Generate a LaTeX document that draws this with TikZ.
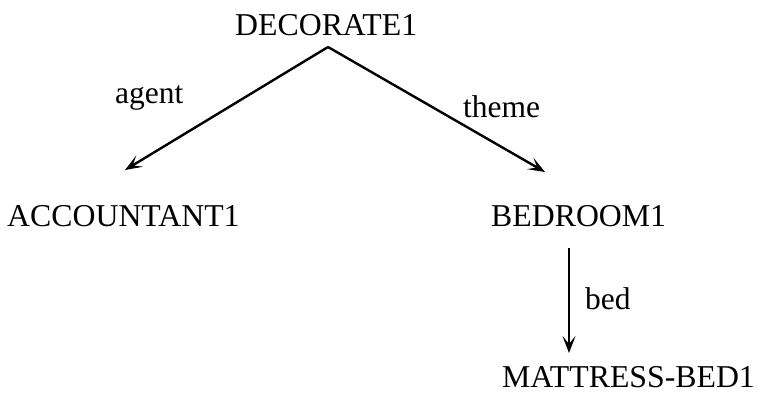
\documentclass[tikz,border=0pt]{standalone}
\usepackage{fontspec}
\setmainfont{Liberation Serif}
\usetikzlibrary{arrows.meta}
\begin{document}
\begin{tikzpicture}[x=1pt,y=-1pt,
  concept/.style={anchor=base west,inner sep=0pt,font=\fontsize{31.8}{36}\selectfont},
  rel/.style={anchor=base west,inner sep=0pt,font=\fontsize{31.5}{36}\selectfont},
  link/.style={line width=2.4pt,-{Stealth[length=17pt,width=13pt,inset=8pt]}}]
\useasboundingbox[fill=white] (0,0) rectangle (760,397);
\node[concept] (dec) at (235,35) {DECORATE1};
\node[concept] (acc) at (7,226) {ACCOUNTANT1};
\node[concept] (bedr) at (491,226) {BEDROOM1};
\node[concept] (mat) at (502,387) {MATTRESS-BED1};
\node[rel] (agent) at (115,103) {agent};
\node[rel] (theme) at (463,117) {theme};
\node[rel] (bedl) at (585,309) {bed};
\coordinate (apex) at (328,47);
\coordinate (accin) at (125,170);
\coordinate (bedin) at (545,172);
\coordinate (bedout) at (569,248);
\coordinate (matin) at (569,353);
\draw[link,line join=miter] (apex) -- (accin);
\draw[link,line join=miter] (apex) -- (bedin);
\draw[link] (bedout) -- (matin);
\end{tikzpicture}
\end{document}
